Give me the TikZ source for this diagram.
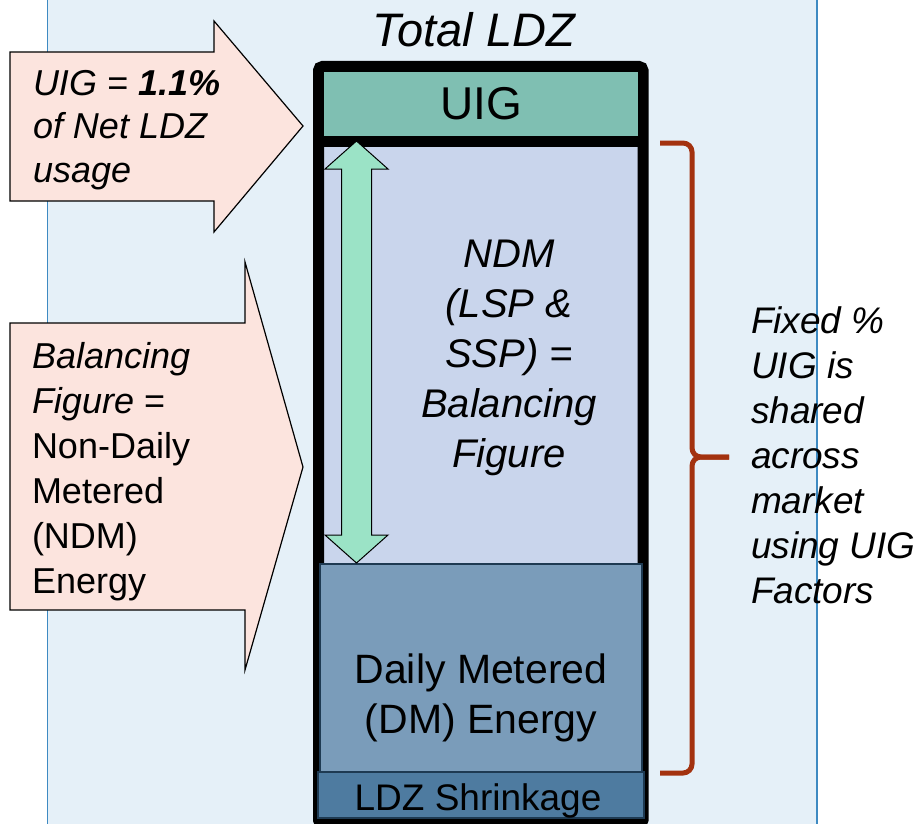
\documentclass[tikz,border=0pt]{standalone}
\usepackage{fontspec}
\setmainfont{Liberation Sans}
\definecolor{panelbg}{HTML}{E5F0F8}
\definecolor{panelline}{HTML}{3E8AC2}
\definecolor{uigfill}{HTML}{7FBFB2}
\definecolor{ndmfill}{HTML}{C9D5EC}
\definecolor{dmfill}{HTML}{7A9CBA}
\definecolor{shrfill}{HTML}{4E7BA0}
\definecolor{boxedge}{HTML}{1E3A52}
\definecolor{mint}{HTML}{9BE3C6}
\definecolor{pinkfill}{HTML}{FCE4DE}
\definecolor{bracecol}{HTML}{A3320F}
\newcommand{\fs}[2]{\fontsize{#1}{#2}\selectfont}
\tikzset{
  txt/.style={inner sep=0pt, outer sep=0pt},
  callout/.style={draw=black, line width=1.2pt, fill=pinkfill, line join=miter},
  band/.style={inner sep=0pt, outer sep=0pt, anchor=north west},
  bracestyle/.style={draw=bracecol, line width=5pt, rounded corners=9pt}
}
\begin{document}
\begin{tikzpicture}[x=1pt,y=-1pt]
\useasboundingbox (0,0) rectangle (923,824);
\clip (0,0) rectangle (923,824);

% background panel
\fill[panelbg] (47,0) rectangle (817,824);
\draw[panelline, line width=1pt] (47.5,0) -- (47.5,824);
\draw[panelline, line width=2pt] (817,0) -- (817,824);

% title
\node[txt, anchor=base, font=\fs{47}{56}\itshape] (title) at (474,47) {Total LDZ};

% column frame with the NDM fill
\draw[line width=11pt, rounded corners=4pt, fill=ndmfill] (318.5,66.5) rectangle (643,824);

% UIG band
\node[band, fill=uigfill, minimum width=314pt, minimum height=64pt] (uig) at (324,72) {};
\node[txt, font=\fs{46}{55}] (uiglabel) at (uig.center) {UIG};
\fill[black] (uig.south west) rectangle ++(314,11);

% DM block
\node[band, fill=dmfill, draw=boxedge, line width=1.5pt, minimum width=322pt, minimum height=208pt] (dm) at (320,564) {};
\node[txt, anchor=base, font=\fs{41}{50}] (dmlabel) at (481,683)
  {\begin{tabular}[t]{@{}c@{}}Daily Metered\\(DM) Energy\end{tabular}};

% shrinkage block
\node[band, fill=shrfill, draw=boxedge, line width=1.5pt, minimum width=326pt, minimum height=46pt] (shr) at (318,772) {};
\node[txt, anchor=base, font=\fs{37}{44}] (shrlabel) at (478,810) {LDZ Shrinkage};

% NDM label
\node[txt, anchor=base, font=\fs{40}{50}\itshape] (ndmlabel) at (509,267)
  {\begin{tabular}[t]{@{}c@{}}NDM\\(LSP \&\\SSP) =\\Balancing\\Figure\end{tabular}};

% vertical double arrow spanning the NDM block
\coordinate (atop) at (356.5,141);
\coordinate (abot) at (356.5,563);
\draw[fill=mint, line width=1pt, line join=miter]
  (atop) -- ++(31.5,28) -- ++(-16.5,0) -- (371.5,535) -- ++(16.5,0) -- (abot)
  -- ++(-31.5,-28) -- ++(16.5,0) -- (341.5,169) -- ++(-16.5,0) -- cycle;

% UIG callout arrow
\draw[callout] (10,52) -- (214,52) -- (214,21) -- (303,126) -- (214,232) -- (214,201) -- (10,201) -- cycle;
\node[txt, anchor=base west, font=\fs{36}{43}\itshape] (uignote) at (33,96)
  {\begin{tabular}[t]{@{}l@{}}UIG = \textbf{1.1\%}\\of Net LDZ\\usage\end{tabular}};

% balancing figure callout arrow
\draw[callout] (10,323) -- (245,323) -- (245,262) -- (303,467) -- (245,670) -- (245,610) -- (10,610) -- cycle;
\node[txt, anchor=base west, font=\fs{36}{45}] (balnote) at (32,368)
  {\begin{tabular}[t]{@{}l@{}}\textit{Balancing}\\\textit{Figure} =\\Non-Daily\\Metered\\(NDM)\\Energy\end{tabular}};

% brace on the right
\coordinate (btop) at (660,143);
\coordinate (btip) at (729,457);
\coordinate (bbot) at (660,773);
\draw[bracestyle] (btop) -- (692,143) -- (692,457) -- (btip);
\draw[bracestyle] (btip) -- (692,457) -- (692,773) -- (bbot);

% note beside the brace
\node[txt, anchor=base west, font=\fs{37}{45}\itshape] (sharenote) at (751,333)
  {\begin{tabular}[t]{@{}l@{}}Fixed \%\\UIG is\\shared\\across\\market\\using UIG\\Factors\end{tabular}};
\end{tikzpicture}
\end{document}
